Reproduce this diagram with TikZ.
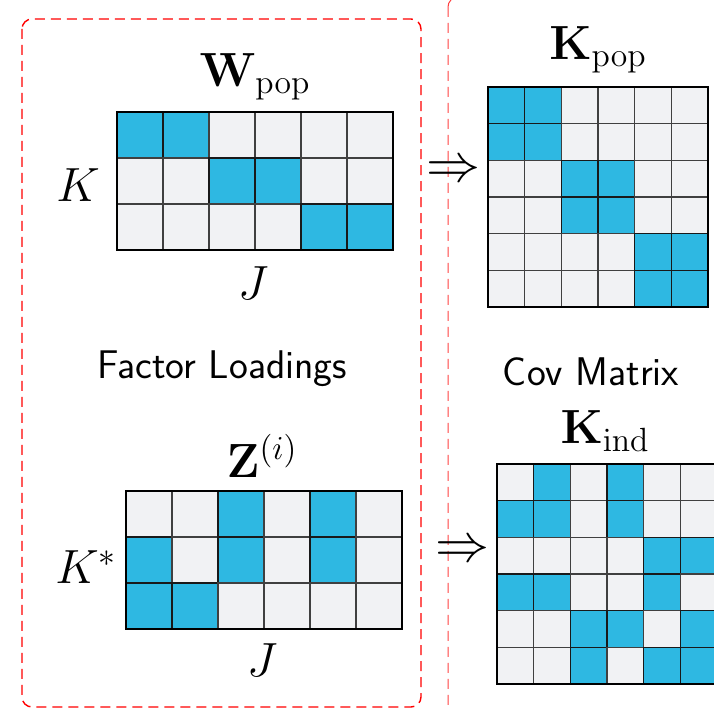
\RequirePackage{fix-cm}
\documentclass[tikz,border=0pt]{standalone}
\usetikzlibrary{positioning}

\definecolor{cellblue}{RGB}{46,184,226}
\definecolor{cellgray}{RGB}{241,242,244}

\tikzset{
  cellG/.style={fill=cellgray, draw=black!75, line width=0.7pt},
  cellB/.style={fill=cellblue, draw=black!90, line width=0.7pt},
  matframe/.style={draw=black, line width=1.3pt, inner sep=0pt, outer sep=0pt, anchor=north west},
  mathlbl/.style={font=\fontsize{24}{28}\selectfont, inner sep=0pt},
  titlelbl/.style={font=\fontsize{20}{24}\selectfont\sffamily, inner sep=0pt},
  groupbox/.style={draw=red, dash pattern=on 5pt off 3pt, rounded corners=5pt, line width=0.7pt},
}

% #1,#2: top-left corner; #3: cell size; #4: rows of 0/1 flags (1 = filled)
\newcommand\cellgrid[4]{%
  \foreach \rowflags [count=\r from 0] in {#4} {
    \foreach \v [count=\c from 0] in \rowflags {
      \ifnum\v=1
        \path[cellB] ({#1+\c*#3},{#2+\r*#3}) rectangle ++(#3,#3);
      \else
        \path[cellG] ({#1+\c*#3},{#2+\r*#3}) rectangle ++(#3,#3);
      \fi
    }
  }%
}

\begin{document}
\begin{tikzpicture}[x=0.5pt,y=-0.5pt]
  \useasboundingbox (0,0) rectangle (714,710);
  \clip (0,0) rectangle (714,710);

  % group outlines
  \draw[groupbox] (22,19) rectangle (421,707);
  \draw[groupbox, draw=red!75, line width=0.5pt] (448,-3) rectangle (760,730);

  % population loadings W_pop
  \cellgrid{117}{112}{46}{{1,1,0,0,0,0},{0,0,1,1,0,0},{0,0,0,0,1,1}}
  \node[matframe, minimum width=138pt, minimum height=69pt] (W) at (117,112) {};
  \node[mathlbl] (Wlbl) at (255,77) {$\mathbf{W}_{\mathrm{pop}}$};
  \node[mathlbl] (WK) at (78,185) {$K$};
  \node[mathlbl] (WJ) at (253,283) {$J$};

  % individual loadings Z^(i)
  \cellgrid{126}{491}{46}{{0,0,1,0,1,0},{1,0,1,0,1,0},{1,1,0,0,0,0}}
  \node[matframe, minimum width=138pt, minimum height=69pt] (Z) at (126,491) {};
  \node[mathlbl] (Zlbl) at (262,456) {$\mathbf{Z}^{(i)}$};
  \node[mathlbl] (ZK) at (86,567) {$K^{*}$};
  \node[mathlbl] (ZJ) at (262,660) {$J$};

  \node[titlelbl] (fl) at (222,369) {Factor Loadings};
  \node[titlelbl] (cm) at (591,372) {Cov Matrix};

  % population covariance K_pop
  \cellgrid{488}{87}{36.67}{{1,1,0,0,0,0},{1,1,0,0,0,0},{0,0,1,1,0,0},{0,0,1,1,0,0},{0,0,0,0,1,1},{0,0,0,0,1,1}}
  \node[matframe, minimum width=110pt, minimum height=110pt] (Kp) at (488,87) {};
  \node[mathlbl] (Kplbl) at (598,50) {$\mathbf{K}_{\mathrm{pop}}$};

  % individual covariance K_ind
  \cellgrid{497}{464}{36.67}{{0,1,0,1,0,0},{1,1,0,1,0,0},{0,0,0,0,1,1},{1,1,0,0,1,0},{0,0,1,1,0,1},{0,0,1,0,1,1}}
  \node[matframe, minimum width=110pt, minimum height=110pt] (Ki) at (497,464) {};
  \node[mathlbl] (Kilbl) at (605,431) {$\mathbf{K}_{\mathrm{ind}}$};

  % implication marks between the groups
  \node[mathlbl, font=\fontsize{27}{31}\selectfont] (arrpop) at (453,172) {$\Rightarrow$};
  \node[mathlbl, font=\fontsize{27}{31}\selectfont] (arrind) at (462,552) {$\Rightarrow$};
\end{tikzpicture}
\end{document}
